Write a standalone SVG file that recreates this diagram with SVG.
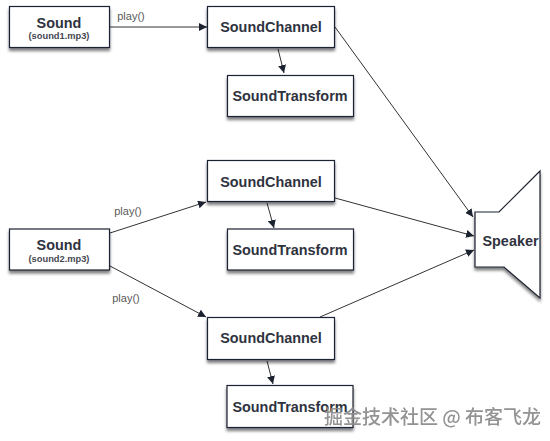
<svg xmlns="http://www.w3.org/2000/svg" width="550" height="441" viewBox="0 0 550 441">
<style>
.n{fill:#fff;stroke:#1c2230;stroke-width:1.2;filter:url(#s)}
text{font-family:"Liberation Sans",Arial,sans-serif;text-anchor:middle;fill:#2f3340}
.t{font-size:14.4px;font-weight:bold}
.u{font-size:9.300px;font-weight:bold;fill:#454852}
.l{font-size:11px;fill:#5a5a5a;text-anchor:middle}
.c{fill:none;stroke:#333;stroke-width:1;marker-end:url(#a)}
.w{font-family:"Noto Sans CJK SC",sans-serif;font-size:19px;font-weight:500;fill:#8a8a8a;text-anchor:start;opacity:.92}
</style>
<defs>
<filter id="s" x="-10%" y="-15%" width="120%" height="140%"><feDropShadow dx="0" dy="3" stdDeviation="1.8" flood-color="#000" flood-opacity=".5"/></filter>
<marker id="a" markerWidth="9" markerHeight="8" refX="8" refY="4" orient="auto" markerUnits="userSpaceOnUse"><path d="M0 0L8 4L0 8Z" fill="#1c2230"/></marker>
</defs>
<rect width="550" height="441" fill="#fff"/>
<g id="connectors">
<path class="c" d="M110 27H207"/>
<path class="c" d="M278 49L284 73"/>
<path class="c" d="M335 27L473 217"/>
<path class="c" d="M110 233L206 202"/>
<path class="c" d="M267 203L274 228"/>
<path class="c" d="M335 198L474 236"/>
<path class="c" d="M110 266L206 317"/>
<path class="c" d="M267 361L273 384"/>
<path class="c" d="M320 317L474 250"/>
</g>
<text class="l" x="131" y="20">play()</text>
<text class="l" x="128" y="215">play()</text>
<text class="l" x="126" y="302">play()</text>
<g id="sound1"><rect class="n" x="9.500" y="6.500" width="100" height="41"/><text class="t" x="59" y="28">Sound</text><text class="u" x="59" y="39">(sound1.mp3)</text></g>
<g id="channel1"><rect class="n" x="207.500" y="6.500" width="127" height="41"/><text class="t" x="271" y="32">SoundChannel</text></g>
<g id="transform1"><rect class="n" x="227.500" y="75.500" width="126" height="41"/><text class="t" x="290" y="101">SoundTransform</text></g>
<g id="channel2"><rect class="n" x="207.500" y="160.500" width="127" height="41"/><text class="t" x="271" y="187">SoundChannel</text></g>
<g id="transform2"><rect class="n" x="227.500" y="229" width="126" height="41"/><text class="t" x="290" y="255">SoundTransform</text></g>
<g id="sound2"><rect class="n" x="9.500" y="229" width="100" height="41"/><text class="t" x="59" y="250">Sound</text><text class="u" x="59" y="262">(sound2.mp3)</text></g>
<g id="channel3"><rect class="n" x="207.500" y="317.500" width="127" height="42"/><text class="t" x="271" y="343">SoundChannel</text></g>
<g id="transform3"><rect class="n" x="227" y="385.500" width="126" height="42"/><text class="t" x="290" y="412">SoundTransform</text></g>
<g id="speaker"><path class="n" d="M475 212H499L540 171V298L504 267H475Z"/><text class="t" x="510.500" y="246">Speaker</text></g>
<text class="w" x="324" y="424">掘金技术社区 @ 布客飞龙</text>
</svg>
